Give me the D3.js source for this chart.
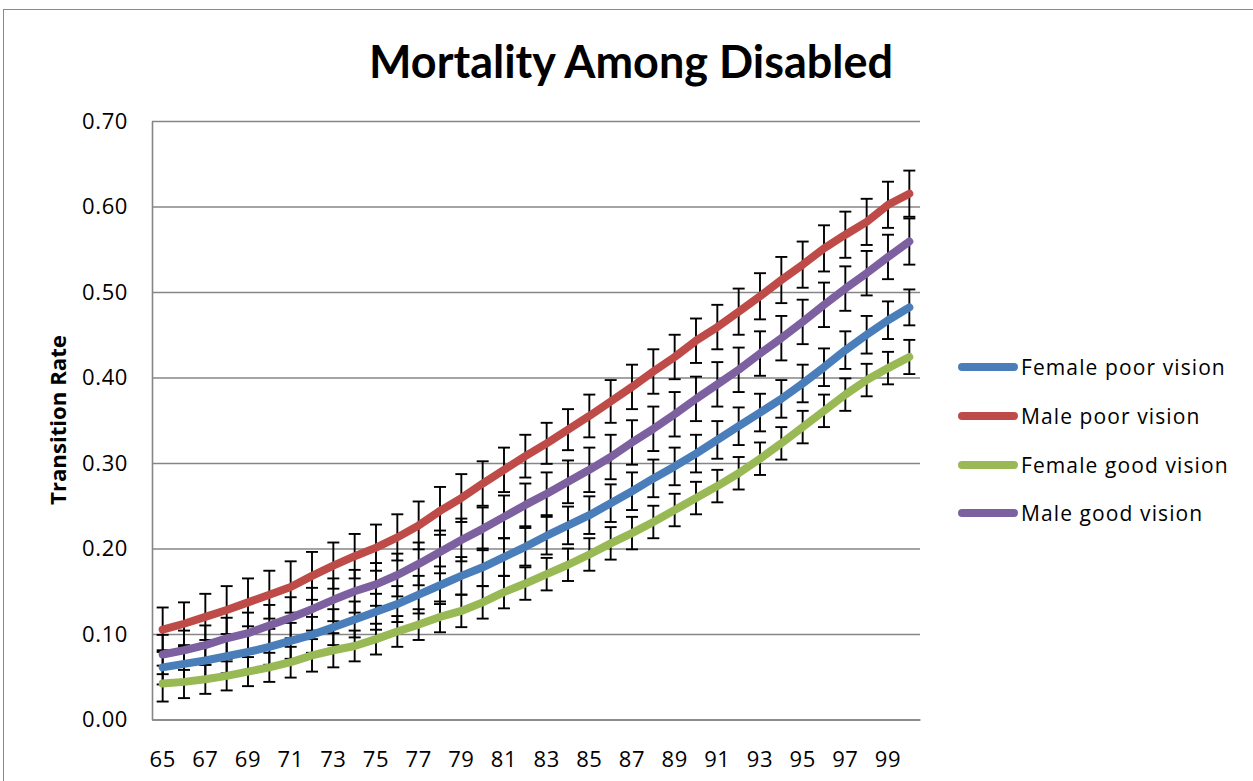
<!DOCTYPE html>
<html><head><meta charset="utf-8">
<script src="https://cdn.jsdelivr.net/npm/d3@7"></script>
<style>body{margin:0;background:#fff}</style>
</head><body>
<svg id="c" width="1253" height="781"></svg>
<script>
const ages = [65,66,67,68,69,70,71,72,73,74,75,76,77,78,79,80,81,82,83,84,85,86,87,88,89,90,91,92,93,94,95,96,97,98,99,100];
const xTickLabels = [65,67,69,71,73,75,77,79,81,83,85,87,89,91,93,95,97,99];
const yTickValues = [0,0.1,0.2,0.3,0.4,0.5,0.6,0.7];
const seriesNames = ["Female poor vision","Male poor vision","Female good vision","Male good vision"];
const seriesColors = ["#4A7EBB","#BE4B48","#98B954","#7D60A0"];

const femalePoor = [0.061,0.065,0.069,0.074,0.079,0.085,0.092,0.099,0.108,0.117,0.126,0.135,0.146,0.157,0.168,0.178,0.190,0.202,0.215,0.227,0.239,0.253,0.267,0.282,0.296,0.311,0.327,0.343,0.359,0.375,0.393,0.412,0.432,0.450,0.467,0.482];
const malePoor   = [0.105,0.112,0.120,0.128,0.137,0.146,0.155,0.168,0.180,0.191,0.201,0.213,0.227,0.244,0.259,0.276,0.292,0.308,0.323,0.339,0.355,0.372,0.389,0.407,0.424,0.443,0.459,0.477,0.495,0.514,0.532,0.551,0.567,0.582,0.602,0.615];
const femaleGood = [0.042,0.044,0.047,0.051,0.056,0.061,0.067,0.075,0.081,0.086,0.094,0.103,0.111,0.120,0.127,0.137,0.149,0.159,0.170,0.181,0.193,0.206,0.218,0.231,0.245,0.259,0.273,0.288,0.305,0.323,0.342,0.361,0.380,0.397,0.411,0.424];
const maleGood   = [0.076,0.081,0.087,0.095,0.101,0.110,0.119,0.129,0.140,0.150,0.158,0.169,0.182,0.196,0.210,0.223,0.237,0.251,0.264,0.278,0.292,0.307,0.324,0.340,0.357,0.375,0.392,0.409,0.428,0.446,0.465,0.485,0.504,0.522,0.541,0.559];

const femalePoorErr = [0.020,0.020,0.020,0.020,0.021,0.021,0.021,0.021,0.021,0.021,0.021,0.021,0.022,0.022,0.022,0.022,0.022,0.022,0.022,0.022,0.022,0.022,0.022,0.022,0.022,0.022,0.022,0.022,0.022,0.022,0.022,0.022,0.022,0.022,0.022,0.021];
const malePoorErr   = [0.026,0.025,0.027,0.028,0.028,0.028,0.030,0.028,0.027,0.026,0.027,0.027,0.028,0.028,0.028,0.026,0.026,0.025,0.024,0.024,0.025,0.025,0.026,0.026,0.026,0.026,0.026,0.027,0.027,0.027,0.027,0.027,0.027,0.027,0.027,0.027];
const femaleGoodErr = [0.021,0.019,0.017,0.017,0.017,0.017,0.018,0.019,0.020,0.018,0.018,0.018,0.018,0.018,0.019,0.019,0.019,0.019,0.019,0.019,0.019,0.019,0.019,0.019,0.019,0.019,0.019,0.019,0.019,0.019,0.019,0.019,0.019,0.019,0.019,0.020];
const maleGoodErr   = [0.023,0.023,0.023,0.024,0.024,0.024,0.024,0.025,0.025,0.025,0.025,0.025,0.025,0.025,0.025,0.025,0.025,0.025,0.025,0.025,0.026,0.026,0.026,0.026,0.026,0.026,0.026,0.026,0.026,0.026,0.026,0.026,0.026,0.026,0.026,0.027];

const seriesValues = [femalePoor, malePoor, femaleGood, maleGood];
const seriesErrors = [femalePoorErr, malePoorErr, femaleGoodErr, maleGoodErr];

const svg = d3.select("#c");
const L = 152, R = 920, T = 121, B = 719.5;

svg.append("rect").attr("x",3.5).attr("y",9.5).attr("width",1300).attr("height",900)
  .attr("fill","#fff").attr("stroke","#8a8a8a").attr("stroke-width",1);

const x = d3.scaleBand().domain(ages).range([L, R]).padding(0);
const cx = a => x(a) + x.bandwidth()/2;
const y = d3.scaleLinear().domain([0, 0.7]).range([B, T]);

// y axis with gridlines
const gy = svg.append("g").attr("transform",`translate(${L},0)`)
  .call(d3.axisLeft(y).tickValues(yTickValues).tickFormat(d3.format(".2f"))
    .tickSizeInner(-(R-L)).tickSizeOuter(0).tickPadding(24));
gy.selectAll(".tick line").attr("stroke","#868686").attr("stroke-width",1.6);
gy.select(".domain").attr("stroke","#868686").attr("stroke-width",1.6);
gy.selectAll(".tick text").attr("font-family","'Open Sans', sans-serif").attr("font-size",22)
  .attr("letter-spacing",0.6).attr("fill","#000");

// x axis
const gx = svg.append("g").attr("transform",`translate(0,${B})`)
  .call(d3.axisBottom(x).tickValues(xTickLabels).tickSize(0).tickPadding(32));
gx.select(".domain").attr("stroke","#868686").attr("stroke-width",1.6);
gx.selectAll(".tick text").attr("font-family","'Open Sans', sans-serif").attr("font-size",22)
  .attr("letter-spacing",0.6).attr("fill","#000");

// error bars
const eb = svg.append("g").attr("stroke","#000").attr("stroke-width",1.9).attr("fill","none");
seriesValues.forEach((vals, si) => {
  const errs = seriesErrors[si];
  ages.forEach((a, i) => {
    const px = cx(a), y1 = y(vals[i] + errs[i]), y2 = y(vals[i] - errs[i]);
    eb.append("line").attr("x1",px).attr("x2",px).attr("y1",y1).attr("y2",y2);
    eb.append("line").attr("x1",px-6).attr("x2",px+6).attr("y1",y1).attr("y2",y1);
    eb.append("line").attr("x1",px-6).attr("x2",px+6).attr("y1",y2).attr("y2",y2);
  });
});

// lines
const line = d3.line().x((d,i) => cx(ages[i])).y(d => y(d));
seriesValues.forEach((vals, si) => {
  svg.append("path").attr("d", line(vals)).attr("fill","none")
    .attr("stroke", seriesColors[si]).attr("stroke-width",8)
    .attr("stroke-linecap","round").attr("stroke-linejoin","round");
});

// legend
const legendRows = [367, 416, 465, 513];
seriesNames.forEach((name, si) => {
  const ry = legendRows[si];
  svg.append("line").attr("x1",962).attr("x2",1014).attr("y1",ry).attr("y2",ry)
    .attr("stroke",seriesColors[si]).attr("stroke-width",8).attr("stroke-linecap","round");
  svg.append("text").attr("x",1021).attr("y",ry+7.5).text(name)
    .attr("font-family","'Open Sans', sans-serif").attr("font-size",21)
    .attr("letter-spacing",1.1).attr("fill","#000");
});

// title
const title = svg.append("text").attr("x",631).attr("y",78).attr("text-anchor","middle")
  .attr("font-family","Lato, sans-serif").attr("font-weight","bold").attr("font-size",44)
  .attr("fill","#000").text("Mortality Among Disabled");
const tw = title.node().getComputedTextLength();
title.attr("font-size", 44 * 524 / tw);

// y axis title
const yt = svg.append("text").attr("transform","translate(66,420) rotate(-90)")
  .attr("text-anchor","middle").attr("font-family","'Open Sans', sans-serif")
  .attr("font-weight","bold").attr("font-size",18).attr("fill","#000").text("Transition Rate");
const yw = yt.node().getComputedTextLength();
yt.attr("font-size", 18 * 170 / yw);
</script>
</body></html>
